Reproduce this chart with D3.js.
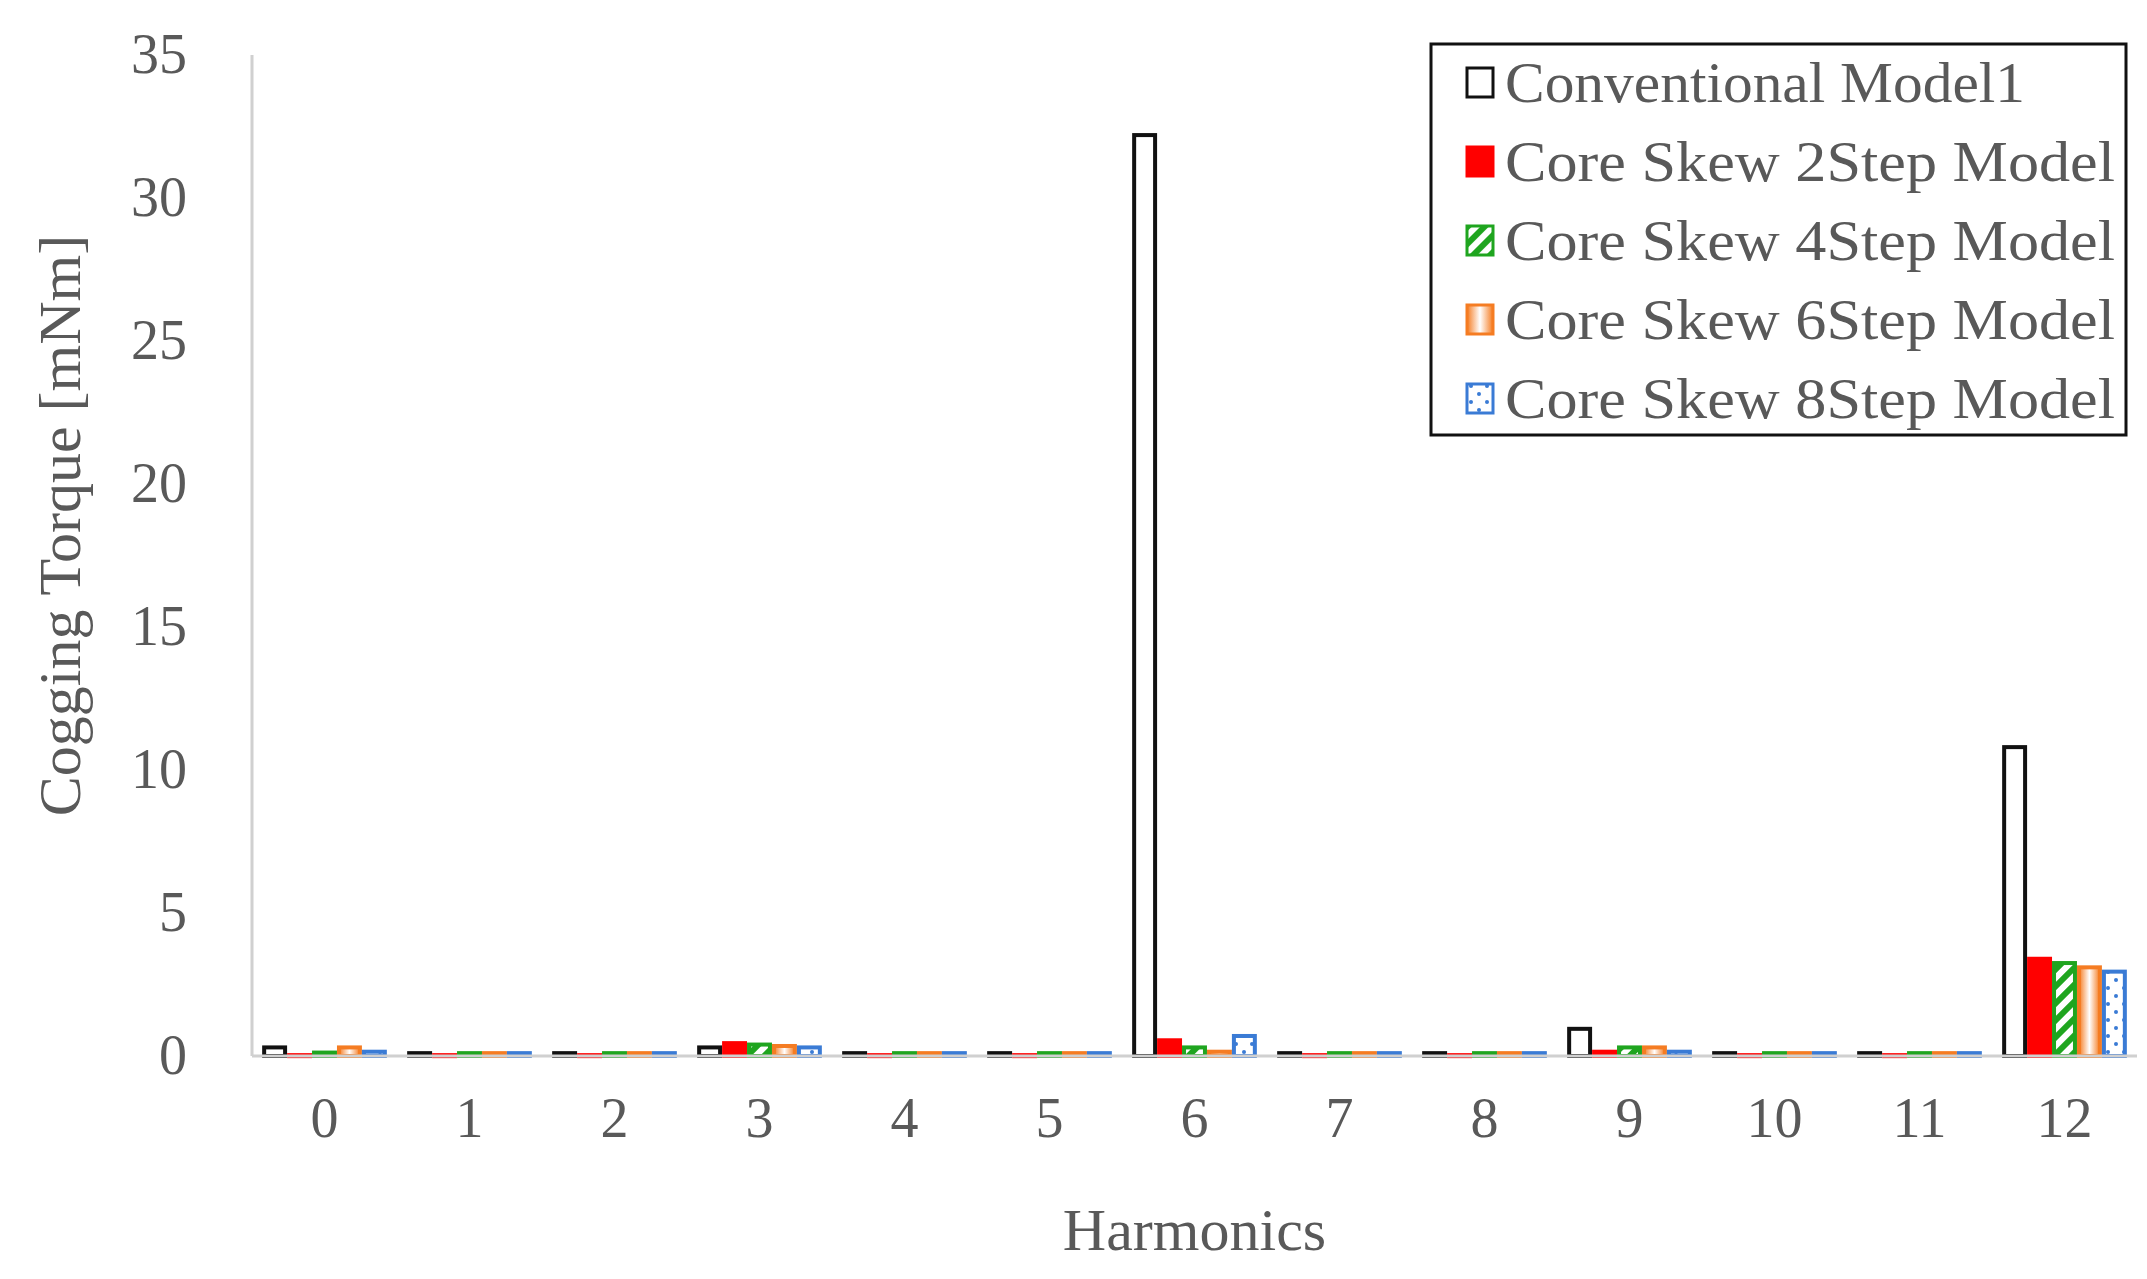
<!DOCTYPE html>
<html><head><meta charset="utf-8">
<script src="https://cdn.jsdelivr.net/npm/d3@7"></script>
<style>body{margin:0;background:#fff}text{font-family:"Liberation Serif","Times New Roman",serif}</style>
</head><body><svg id="chart" width="2147" height="1279"></svg>
<script>
var harmonics = ["0","1","2","3","4","5","6","7","8","9","10","11","12"];
var seriesNames = ["Conventional Model1","Core Skew 2Step Model","Core Skew 4Step Model","Core Skew 6Step Model","Core Skew 8Step Model"];
var conventional = [0.30,0.10,0.10,0.30,0.10,0.10,32.2,0.10,0.10,0.95,0.10,0.10,10.8];
var skew2 = [0.03,0.03,0.03,0.45,0.03,0.03,0.55,0.03,0.03,0.15,0.03,0.03,3.40];
var skew4 = [0.12,0.10,0.10,0.40,0.10,0.10,0.30,0.10,0.10,0.30,0.10,0.10,3.25];
var skew6 = [0.30,0.10,0.10,0.35,0.10,0.10,0.15,0.10,0.10,0.30,0.10,0.10,3.10];
var skew8 = [0.15,0.10,0.10,0.30,0.10,0.10,0.70,0.10,0.10,0.15,0.10,0.10,2.95];
var yTicks = [0,5,10,15,20,25,30,35];
var allSeries = [conventional, skew2, skew4, skew6, skew8];

var svg = d3.select("#chart");
var defs = svg.append("defs");
var g1 = defs.append("pattern").attr("id","stripe").attr("patternUnits","userSpaceOnUse")
  .attr("width",12).attr("height",12).attr("patternTransform","rotate(45)");
g1.append("rect").attr("width",12).attr("height",12).attr("fill","#fff");
g1.append("rect").attr("width",6).attr("height",12).attr("fill","#1fa51f");
var gr = defs.append("linearGradient").attr("id","grad");
gr.append("stop").attr("offset","0%").attr("stop-color","#f57c22");
gr.append("stop").attr("offset","50%").attr("stop-color","#fff");
gr.append("stop").attr("offset","100%").attr("stop-color","#f57c22");
var dp = defs.append("pattern").attr("id","dots").attr("patternUnits","userSpaceOnUse").attr("width",16).attr("height",16);
dp.append("rect").attr("width",16).attr("height",16).attr("fill","#fff");
dp.append("circle").attr("cx",4).attr("cy",4).attr("r",2).attr("fill","#3a7bd5");
dp.append("circle").attr("cx",12).attr("cy",12).attr("r",2).attr("fill","#3a7bd5");

var fills = ["#fff","#ff0000","url(#stripe)","url(#grad)","url(#dots)"];
var strokes = ["#111","#ff0000","#1fa51f","#f57c22","#3a7bd5"];

var plotLeft = 252, plotRight = 2137, plotTop = 55, plotBottom = 1056;
var x = d3.scaleBand().domain(harmonics).range([plotLeft, plotRight]).paddingOuter(0.07).paddingInner(0.14);
var xs = d3.scaleBand().domain(d3.range(5)).range([0, x.bandwidth()]);
var y = d3.scaleLinear().domain([0,35]).range([plotBottom, plotTop]);

var grey = "#595959";
svg.append("line").attr("x1",plotLeft).attr("x2",plotLeft).attr("y1",plotTop).attr("y2",plotBottom).attr("stroke","#d0d0d0").attr("stroke-width",3);

harmonics.forEach(function(h, i) {
  allSeries.forEach(function(s, k) {
    var v = s[i];
    svg.append("rect").attr("x", x(h) + xs(k) + 2).attr("width", xs.bandwidth() - 4)
      .attr("y", y(v)).attr("height", Math.max(plotBottom - y(v), 1))
      .attr("fill", fills[k]).attr("stroke", strokes[k]).attr("stroke-width", 4);
  });
});
svg.append("line").attr("x1",plotLeft).attr("x2",plotRight).attr("y1",plotBottom).attr("y2",plotBottom).attr("stroke","#d0d0d0").attr("stroke-width",3);

var yAxis = svg.append("g").attr("transform","translate(" + (plotLeft - 62) + ",0)")
  .call(d3.axisLeft(y).tickValues(yTicks).tickSize(0));
yAxis.select(".domain").remove();
yAxis.selectAll("text").attr("fill",grey).style("font-size","56px").attr("dy","0.32em");

var xAxis = svg.append("g").attr("transform","translate(0," + plotBottom + ")")
  .call(d3.axisBottom(x).tickSize(0));
xAxis.select(".domain").remove();
xAxis.selectAll("text").attr("fill",grey).style("font-size","56px").attr("dy","1.4em");

svg.append("text").attr("x",(plotLeft+plotRight)/2).attr("y",1250).attr("text-anchor","middle")
  .attr("fill",grey).style("font-size","60px").text("Harmonics");
svg.append("text").attr("transform","translate(80," + ((plotTop+plotBottom)/2 - 30) + ") rotate(-90)")
  .attr("text-anchor","middle").attr("fill",grey).style("font-size","60px").text("Cogging Torque [mNm]");

var lg = svg.append("g").attr("transform","translate(1431,44)");
lg.append("rect").attr("width",695).attr("height",391).attr("fill","#fff").attr("stroke","#111").attr("stroke-width",3);
seriesNames.forEach(function(n, k) {
  var row = lg.append("g").attr("transform","translate(36," + (38 + k*79) + ")");
  row.append("rect").attr("x",0).attr("y",-14).attr("width",26).attr("height",29)
    .attr("fill",fills[k]).attr("stroke",strokes[k]).attr("stroke-width",3);
  row.append("text").attr("x",38).attr("dy","0.35em").attr("fill",grey).style("font-size","58px")
    .attr("textLength",610 - (k === 0 ? 90 : 0)).attr("lengthAdjust","spacingAndGlyphs").text(n);
});
</script></body></html>
